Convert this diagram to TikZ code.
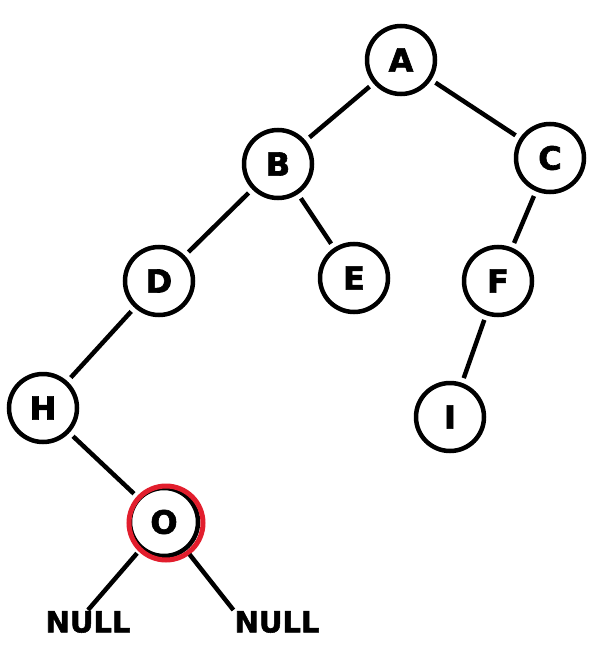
\documentclass[tikz,border=0pt]{standalone}
\usepackage{fontspec}
\setmainfont{DejaVu Sans}[BoldFeatures={FakeBold=2}]
\definecolor{markred}{RGB}{226,30,45}
\tikzset{
  treenode/.style={circle, draw=black, line width=4.5pt, minimum size=68pt, inner sep=0pt,
    font=\fontsize{32}{32}\bfseries\selectfont},
  nulltext/.style={inner sep=1pt, font=\fontsize{29}{29}\bfseries\selectfont},
  branch/.style={line width=4.5pt, shorten <=5pt, shorten >=5pt}
}
\begin{document}
\begin{tikzpicture}[x=1pt, y=-1pt]
        % Page frame
        \useasboundingbox (0,0) rectangle (603,650);
        % Nodes
        \node[treenode] (A) at (401,60) {A};
        \node[treenode] (B) at (278,164) {B};
        \node[treenode] (C) at (550,158) {C};
        \node[treenode] (D) at (159,281) {D};
        \node[treenode] (E) at (354,278) {E};
        \node[treenode] (F) at (498,281) {F};
        \node[treenode] (H) at (43,408) {H};
        \node[treenode] (I) at (450,417) {I};
        \node[treenode] (O) at (164,522) {O};
        % Marked node
        \draw[markred, line width=5pt] (166,523) circle (37);
        \node[nulltext] (nullL) at (88,622) {NULL};
        \node[nulltext] (nullR) at (277,622) {NULL};
        % Branches
        \draw[branch] (A) -- (B);
        \draw[branch] (A) -- (C);
        \draw[branch] (B) -- (D);
        \draw[branch] (B) -- (E);
        \draw[branch] (C) -- (F);
        \draw[branch] (D) -- (H);
        \draw[branch] (F) -- (I);
        \draw[branch] (H) -- (O);
        \draw[branch, shorten >=0pt] (O) -- (nullL.north);
        \draw[branch, shorten >=0pt] (O) -- (nullR.north west);
      \end{tikzpicture}
\end{document}
